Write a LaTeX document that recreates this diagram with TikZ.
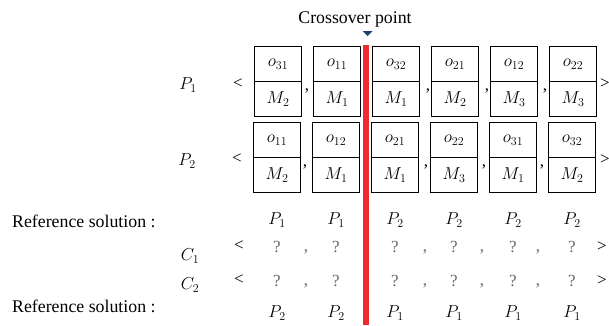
\documentclass[tikz,border=0pt]{standalone}
\usepackage{fontspec}
\setmainfont{Liberation Serif}
\definecolor{cutred}{HTML}{EE2A35}
\definecolor{markblue}{HTML}{1F3F6F}
\begin{document}
\begin{tikzpicture}[x=1pt,y=-1pt,
  font=\fontsize{17}{20}\selectfont,
  bigtext/.style={font=\fontsize{17.8}{21}\selectfont},
  cell/.style={draw=black, line width=1.2pt, minimum width=47pt, minimum height=35pt, inner sep=0pt},
  lbl/.style={inner sep=0pt, anchor=center},
  unk/.style={inner sep=0pt, anchor=center, text=black!60},
  cutline/.style={draw=cutred, line width=6pt}]
\useasboundingbox (0,0) rectangle (609,325);
% title and marker
\node[lbl, bigtext] (title) at (355,19.5) {Crossover point};
\fill[markblue] (362.7,31) -- (372.7,31) -- (367.7,36) -- cycle;
% parent 1
\node[lbl] (p1) at (188,85) {$P_1$};
\node[lbl] (lt1) at (238,83.5) {<};
\foreach \i/\o/\m in {1/31/2, 2/11/1, 3/32/1, 4/21/2, 5/12/3, 6/22/3}{
  \pgfmathsetmacro{\cx}{278+(\i-1)*59}
  \node[cell] (a\i t) at (\cx,64) {$o_{\o}$};
  \node[cell] (a\i b) at (\cx,99) {$M_{\m}$};
}
\foreach \x in {307,428,487,545}{\node[lbl] at (\x,91) {,};}
\node[lbl] (gt1) at (605,83.5) {>};
% parent 2
\node[lbl] (p2) at (187,161) {$P_2$};
\node[lbl] (lt2) at (237,158.5) {<};
\foreach \i/\o/\m in {1/11/2, 2/12/1, 3/21/1, 4/22/3, 5/31/1, 6/32/2}{
  \pgfmathsetmacro{\cx}{277+(\i-1)*59}
  \node[cell] (b\i t) at (\cx,140) {$o_{\o}$};
  \node[cell] (b\i b) at (\cx,175) {$M_{\m}$};
}
\foreach \x in {305,426,484,542}{\node[lbl] at (\x,167) {,};}
\node[lbl] (gt2) at (605,160) {>};
% reference solution rows
\node[inner sep=0pt, anchor=base west, bigtext] (ref1) at (12,227) {Reference solution :};
\node[inner sep=0pt, anchor=base west, bigtext] (ref2) at (12,312) {Reference solution :};
\foreach \i/\p in {1/1,2/1,3/2,4/2,5/2,6/2}{
  \pgfmathsetmacro{\cx}{277+(\i-1)*59}
  \node[lbl] (r1\i) at (\cx,220) {$P_{\p}$};
}
\foreach \i/\p in {1/2,2/2,3/1,4/1,5/1,6/1}{
  \pgfmathsetmacro{\cx}{277+(\i-1)*59}
  \node[lbl] (r2\i) at (\cx,313) {$P_{\p}$};
}
% children
\node[lbl] (c1) at (190,256) {$C_1$};
\node[lbl] (lt3) at (239,246) {<};
\node[lbl] (c2) at (190,285) {$C_2$};
\node[lbl] (lt4) at (239,280) {<};
\foreach \i in {1,...,6}{
  \pgfmathsetmacro{\cx}{277+(\i-1)*59}
  \node[unk] (q1\i) at (\cx,247) {?};
  \node[unk] (q2\i) at (\cx,281) {?};
}
\foreach \x in {306,425,482,538}{
  \node[unk] at (\x,252) {,};
  \node[unk] at (\x,286) {,};
}
\node[lbl] (gt3) at (602,247) {>};
\node[lbl] (gt4) at (602,281) {>};
% crossover cut
\coordinate (cuttop) at (366,45);
\coordinate (cutbot) at (366,325);
\draw[cutline] (cuttop) -- (cutbot);
\end{tikzpicture}
\end{document}
